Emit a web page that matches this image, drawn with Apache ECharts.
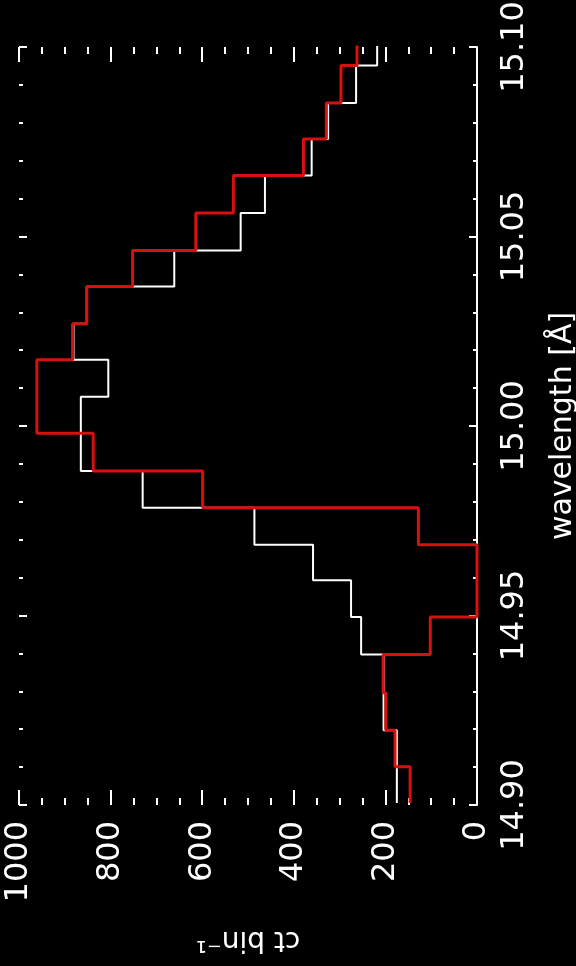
<!DOCTYPE html>
<html>
<head>
<meta charset="utf-8">
<script src="https://cdn.jsdelivr.net/npm/echarts@6/dist/echarts.min.js"></script>
<style>
html,body{margin:0;padding:0;background:#000;}
#chart{width:576px;height:966px;}
</style>
</head>
<body>
<div id="chart"></div>
<script>
// Histogram bin edges (Å)
const wavelengthEdges = [14.9005, 14.9101, 14.9197, 14.9296, 14.9397, 14.9496, 14.9593, 14.9687,
  14.9784, 14.9881, 14.9981, 15.0077, 15.0175, 15.0270, 15.0368, 15.0463, 15.0562, 15.0661,
  15.0757, 15.0852, 15.0951, 15.1048];
// counts per bin (ct bin^-1)
const countsWhite = [175, 175, 204, 204, 253, 275, 358, 486, 730, 865, 865, 805, 881, 852,
  661, 516, 463, 361, 325, 264, 218];
const countsRed = [146, 179, 199, 205, 102, 0, 0, 128, 599, 838, 961, 961, 883, 852,
  752, 614, 532, 379, 329, 297, 262];
const countRange = [0, 1000];
const wavelengthRange = [14.90, 15.10];

function toStep(counts) {
  const pts = [];
  counts.forEach((c, i) => {
    pts.push([c, wavelengthEdges[i]]);
    pts.push([c, wavelengthEdges[i + 1]]);
  });
  return pts;
}

const FONT = 'DejaVu Sans';
const W = '#ffffff';

const chart = echarts.init(document.getElementById('chart'), null, {renderer: 'canvas'});
chart.setOption({
  backgroundColor: '#000000',
  animation: false,
  grid: {left: 19, right: 99, top: 47, bottom: 161, containLabel: false, outerBoundsMode: 'none'},
  xAxis: [{
    type: 'value', position: 'bottom', inverse: true,
    min: countRange[0], max: countRange[1], interval: 200,
    axisLine: {show: false},
    axisTick: {show: true, inside: true, length: 15, lineStyle: {color: W, width: 2}},
    minorTick: {show: true, splitNumber: 4, length: 7, lineStyle: {color: W, width: 2}},
    splitLine: {show: false},
    axisLabel: {rotate: 90, color: W, fontSize: 32, fontFamily: FONT, margin: 16,
      formatter: v => String(v)},
    name: 'ct bin\u207B\u00B9', nameLocation: 'middle', nameRotate: 180, nameGap: 120,
    nameTextStyle: {color: W, fontSize: 28, fontFamily: FONT}
  }, {
    type: 'value', position: 'top', inverse: true,
    min: countRange[0], max: countRange[1], interval: 200,
    axisLine: {show: false},
    axisTick: {show: true, inside: true, length: 15, lineStyle: {color: W, width: 2}},
    minorTick: {show: true, splitNumber: 4, length: 7, lineStyle: {color: W, width: 2}},
    splitLine: {show: false},
    axisLabel: {show: false}
  }],
  yAxis: [{
    type: 'value', position: 'right',
    min: wavelengthRange[0], max: wavelengthRange[1], interval: 0.05,
    axisLine: {show: true, onZero: false, lineStyle: {color: W, width: 2}},
    axisTick: {show: true, inside: true, length: 8, lineStyle: {color: W, width: 2}},
    minorTick: {show: true, splitNumber: 5, length: 4, lineStyle: {color: W, width: 2}},
    splitLine: {show: false},
    axisLabel: {rotate: 90, color: W, fontSize: 32, fontFamily: FONT, margin: 22,
      formatter: v => v.toFixed(2)},
    name: 'wavelength [\u00C5]', nameLocation: 'middle', nameRotate: 90, nameGap: 71,
    nameTextStyle: {color: W, fontSize: 30, fontFamily: FONT}
  }, {
    type: 'value', position: 'left',
    min: wavelengthRange[0], max: wavelengthRange[1], interval: 0.05,
    axisLine: {show: false, onZero: false},
    axisTick: {show: true, inside: true, length: 8, lineStyle: {color: W, width: 2}},
    minorTick: {show: true, splitNumber: 5, length: 4, lineStyle: {color: W, width: 2}},
    splitLine: {show: false},
    axisLabel: {show: false}
  }],
  series: [{
    type: 'line', xAxisIndex: 0, yAxisIndex: 0,
    data: toStep(countsWhite), showSymbol: false, symbol: 'none', clip: true,
    lineStyle: {color: W, width: 2}
  }, {
    type: 'line', xAxisIndex: 0, yAxisIndex: 0,
    data: toStep(countsRed), showSymbol: false, symbol: 'none', clip: true,
    lineStyle: {color: '#d81010', width: 3}
  }]
});
</script>
</body>
</html>
